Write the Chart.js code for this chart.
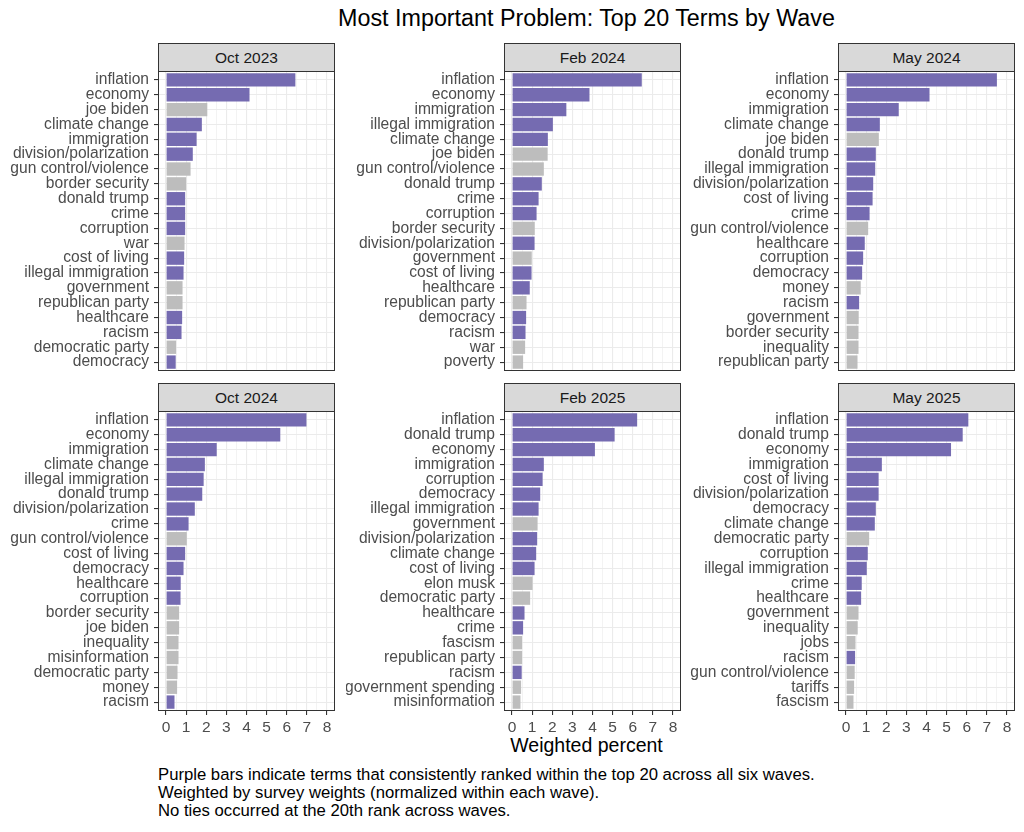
<!DOCTYPE html>
<html>
<head>
<meta charset="utf-8">
<script src="https://cdn.jsdelivr.net/npm/chart.js@4.4.1/dist/chart.umd.min.js"></script>
<style>
  body { margin: 0; width: 1024px; height: 832px; background: #fff; position: relative; overflow: hidden;
         font-family: "Liberation Sans", Arial, sans-serif; }
  .title { position: absolute; left: 158px; width: 857px; top: 5px; text-align: center; font-size: 23.3px; color: #000; }
  .strip { position: absolute; background: #d9d9d9; border: 1px solid #333; box-sizing: border-box;
           text-align: center; font-size: 15.5px; color: #1a1a1a; }
  .xlab { position: absolute; left: 158px; width: 857px; top: 734px; text-align: center; font-size: 19.5px; color: #000; }
  .caption { position: absolute; left: 158px; top: 766px; font-size: 16.7px; line-height: 18px; color: #000; }
  canvas { position: absolute; }
</style>
</head>
<body>
<div class="title">Most Important Problem: Top 20 Terms by Wave</div>
<div class="xlab">Weighted percent</div>
<div class="caption">Purple bars indicate terms that consistently ranked within the top 20 across all six waves.<br>Weighted by survey weights (normalized within each wave).<br>No ties occurred at the 20th rank across waves.</div>

<script>
// data
const waves = ["Oct 2023", "Feb 2024", "May 2024", "Oct 2024", "Feb 2025", "May 2025"];

const consistentTerms = ["inflation", "economy", "immigration", "climate change", "division/polarization",
  "donald trump", "crime", "corruption", "cost of living", "illegal immigration", "healthcare", "racism", "democracy"];

const termsOct2023 = ["inflation", "economy", "joe biden", "climate change", "immigration", "division/polarization",
  "gun control/violence", "border security", "donald trump", "crime", "corruption", "war", "cost of living",
  "illegal immigration", "government", "republican party", "healthcare", "racism", "democratic party", "democracy"];
const valuesOct2023 = [6.43, 4.15, 2.05, 1.78, 1.52, 1.33, 1.22, 1.0, 0.95, 0.95, 0.95, 0.92, 0.9, 0.87, 0.82, 0.82, 0.8, 0.77, 0.5, 0.48];

const termsFeb2024 = ["inflation", "economy", "immigration", "illegal immigration", "climate change", "joe biden",
  "gun control/violence", "donald trump", "crime", "corruption", "border security", "division/polarization",
  "government", "cost of living", "healthcare", "republican party", "democracy", "racism", "war", "poverty"];
const valuesFeb2024 = [6.45, 3.85, 2.7, 2.03, 1.78, 1.77, 1.58, 1.48, 1.32, 1.22, 1.13, 1.12, 0.98, 0.97, 0.88, 0.72, 0.7, 0.67, 0.65, 0.55];

const termsMay2024 = ["inflation", "economy", "immigration", "climate change", "joe biden", "donald trump",
  "illegal immigration", "division/polarization", "cost of living", "crime", "gun control/violence", "healthcare",
  "corruption", "democracy", "money", "racism", "government", "border security", "inequality", "republican party"];
const valuesMay2024 = [7.5, 4.15, 2.62, 1.68, 1.63, 1.48, 1.45, 1.35, 1.32, 1.17, 1.1, 0.93, 0.85, 0.8, 0.73, 0.65, 0.63, 0.62, 0.62, 0.57];

const termsOct2024 = ["inflation", "economy", "immigration", "climate change", "illegal immigration", "donald trump",
  "division/polarization", "crime", "gun control/violence", "cost of living", "democracy", "healthcare", "corruption",
  "border security", "joe biden", "inequality", "misinformation", "democratic party", "money", "racism"];
const valuesOct2024 = [6.98, 5.68, 2.52, 1.93, 1.87, 1.8, 1.43, 1.12, 1.03, 0.95, 0.87, 0.73, 0.72, 0.65, 0.65, 0.62, 0.62, 0.57, 0.55, 0.42];

const termsFeb2025 = ["inflation", "donald trump", "economy", "immigration", "corruption", "democracy",
  "illegal immigration", "government", "division/polarization", "climate change", "cost of living", "elon musk",
  "democratic party", "healthcare", "crime", "fascism", "republican party", "racism", "government spending", "misinformation"];
const valuesFeb2025 = [6.22, 5.1, 4.12, 1.58, 1.52, 1.4, 1.32, 1.27, 1.25, 1.2, 1.12, 1.02, 0.9, 0.62, 0.55, 0.5, 0.5, 0.48, 0.45, 0.42];

const termsMay2025 = ["inflation", "donald trump", "economy", "immigration", "cost of living", "division/polarization",
  "democracy", "climate change", "democratic party", "corruption", "illegal immigration", "crime", "healthcare",
  "government", "inequality", "jobs", "racism", "gun control/violence", "tariffs", "fascism"];
const valuesMay2025 = [6.08, 5.8, 5.22, 1.78, 1.62, 1.62, 1.48, 1.43, 1.15, 1.08, 1.03, 0.78, 0.75, 0.62, 0.58, 0.47, 0.45, 0.43, 0.4, 0.37];

const xTickValues = [0, 1, 2, 3, 4, 5, 6, 7, 8];

const PURPLE = "#756bb1";
const GREY = "#bdbdbd";
const FONT = "'Liberation Sans', Arial, sans-serif";

const panels = [
  { wave: waves[0], terms: termsOct2023, values: valuesOct2023 },
  { wave: waves[1], terms: termsFeb2024, values: valuesFeb2024 },
  { wave: waves[2], terms: termsMay2024, values: valuesMay2024 },
  { wave: waves[3], terms: termsOct2024, values: valuesOct2024 },
  { wave: waves[4], terms: termsFeb2025, values: valuesFeb2025 },
  { wave: waves[5], terms: termsMay2025, values: valuesMay2025 }
];

// panel layout (plot area boxes)
const colLeft = [158, 504, 838];
const rowTop = [71, 411];
const plotW = 177, plotH = 300, stripH = 28, yAxisW = 158;

// minor + major grid positions
const gridValues = [];
for (let v = 0; v <= 8; v += 0.5) gridValues.push(v);

const panelBorder = {
  id: "panelBorder",
  afterDraw(chart) {
    const a = chart.chartArea, ctx = chart.ctx;
    ctx.save();
    ctx.strokeStyle = "#333333";
    ctx.lineWidth = 1;
    ctx.strokeRect(Math.round(a.left) + 0.5, Math.round(a.top) + 0.5, Math.round(a.right - a.left) - 1, Math.round(a.bottom - a.top) - 1);
    ctx.restore();
  }
};

panels.forEach((p, i) => {
  const col = i % 3, row = Math.floor(i / 3);
  const bottom = row === 1;
  const left = colLeft[col], top = rowTop[row];

  const strip = document.createElement("div");
  strip.className = "strip";
  strip.style.left = left + "px";
  strip.style.top = (top - stripH) + "px";
  strip.style.width = plotW + "px";
  strip.style.height = (stripH + 1) + "px";
  strip.style.lineHeight = (stripH - 1) + "px";
  strip.textContent = p.wave;
  document.body.appendChild(strip);

  const xh = bottom ? 26 : 0;
  const canvas = document.createElement("canvas");
  canvas.width = yAxisW + plotW;
  canvas.height = plotH + xh;
  canvas.style.left = (left - yAxisW) + "px";
  canvas.style.top = top + "px";
  document.body.appendChild(canvas);

  // rank positions 1..20 on a linear axis so the ends get ggplot's 0.6 expansion
  const ranks = p.terms.map((t, k) => k + 1);

  new Chart(canvas, {
    type: "bar",
    data: {
      datasets: [{
        data: p.values.map((v, k) => ({ x: v, y: ranks[k] })),
        backgroundColor: p.terms.map(t => consistentTerms.includes(t) ? PURPLE : GREY),
        barPercentage: 0.9,
        categoryPercentage: 1
      }]
    },
    options: {
      indexAxis: "y",
      responsive: false,
      animation: false,
      layout: { padding: 0 },
      plugins: { legend: { display: false }, tooltip: { enabled: false } },
      scales: {
        x: {
          type: "linear",
          min: -0.4,
          max: 8.4,
          afterBuildTicks: s => { s.ticks = gridValues.map(v => ({ value: v })); },
          afterFit: s => { s.height = xh; s.paddingLeft = 0; s.paddingRight = 0; },
          border: { display: false },
          grid: {
            color: "#ebebeb",
            lineWidth: c => Number.isInteger(c.tick.value) ? 1.1 : 0.6,
            drawTicks: bottom,
            tickLength: 4,
            tickColor: c => Number.isInteger(c.tick.value) ? "#333333" : "rgba(0,0,0,0)"
          },
          ticks: {
            display: bottom,
            autoSkip: false,
            maxRotation: 0,
            padding: 3,
            color: "#4d4d4d",
            font: { family: FONT, size: 15.5 },
            callback: v => xTickValues.includes(v) ? String(v) : ""
          }
        },
        y: {
          type: "linear",
          reverse: true,
          offset: false,
          min: 0.4,
          max: ranks.length + 0.6,
          afterBuildTicks: s => { s.ticks = ranks.map(v => ({ value: v })); },
          afterFit: s => { s.width = yAxisW; s.paddingTop = 0; s.paddingBottom = 0; },
          border: { display: false },
          grid: { offset: false, color: "#ebebeb", lineWidth: 1.1, tickLength: 4, tickColor: "#333333" },
          ticks: {
            autoSkip: false,
            padding: 5,
            color: "#4d4d4d",
            font: { family: FONT, size: 15.6 },
            callback: v => p.terms[v - 1]
          }
        }
      }
    },
    plugins: [panelBorder]
  });
});
</script>
</body>
</html>
